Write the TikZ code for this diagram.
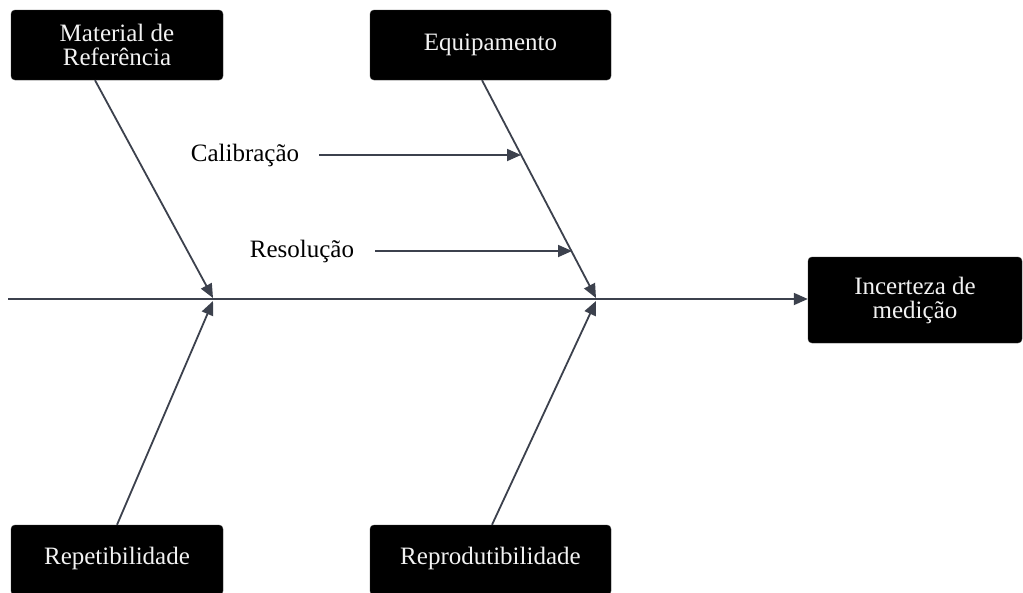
\documentclass[tikz,border=0pt]{standalone}
\usepackage{fontspec}
\setmainfont{Liberation Serif}
\usetikzlibrary{arrows.meta}
\definecolor{linec}{HTML}{3C414D}
\definecolor{boxtext}{HTML}{F2F2F2}
\tikzset{
  causebox/.style={fill=black, draw=black!80, rounded corners=4pt, text=boxtext,
    align=center, font=\fontsize{25}{24}\selectfont, inner sep=0pt},
  conn/.style={draw=linec, line width=1.8pt, -{Triangle[length=14pt,width=12pt]}},
  lbl/.style={font=\fontsize{25}{24}\selectfont, inner sep=0pt, text=black},
}
\begin{document}
\begin{tikzpicture}[x=1pt,y=-1pt]
\useasboundingbox (0,0) rectangle (1023,592);
\fill[white] (0,0) rectangle (1023,592);
\begin{scope}
\clip (0,0) rectangle (1023,592);
% boxes
\node[causebox, minimum width=212pt, minimum height=70pt] (mat) at (117,45) {Material de\\Referência};
\node[causebox, minimum width=241pt, minimum height=70pt] (equ) at (490.5,45) {Equipamento};
\node[causebox, minimum width=214pt, minimum height=86pt] (inc) at (915,300) {Incerteza de\\medição};
\node[causebox, minimum width=212pt, minimum height=70pt] (rep) at (117,560) {};
\node[causebox, minimum width=241pt, minimum height=70pt] (repro) at (490.5,560) {};
\end{scope}
\node[causebox, fill=none, draw=none] (reptxt) at (117,558) {Repetibilidade};
\node[causebox, fill=none, draw=none] (reprotxt) at (490.5,558) {Reprodutibilidade};
% labels
\node[lbl] (cal) at (245,155) {Calibração};
\node[lbl] (res) at (302,251) {Resolução};
% coordinates
\coordinate (s0) at (8,299);
\coordinate (j1t) at (213,298);
\coordinate (j1b) at (213,301);
\coordinate (j2t) at (596,298);
\coordinate (j2b) at (596,301);
\coordinate (c1) at (521,155);
\coordinate (c2) at (572,251);
% spine
\draw[conn] (s0) -- (s0 -| inc.west);
% branches
\draw[conn] ([xshift=-22pt]mat.south) -- (j1t);
\draw[conn] ([xshift=-8.5pt]equ.south) -- (j2t);
\draw[conn] (rep.north) -- (j1b);
\draw[conn] ([xshift=1.5pt]repro.north) -- (j2b);
% sub-causes
\draw[conn] ([xshift=20pt]cal.east) -- (c1);
\draw[conn] ([xshift=21pt]res.east) -- (c2);
\end{tikzpicture}
\end{document}
